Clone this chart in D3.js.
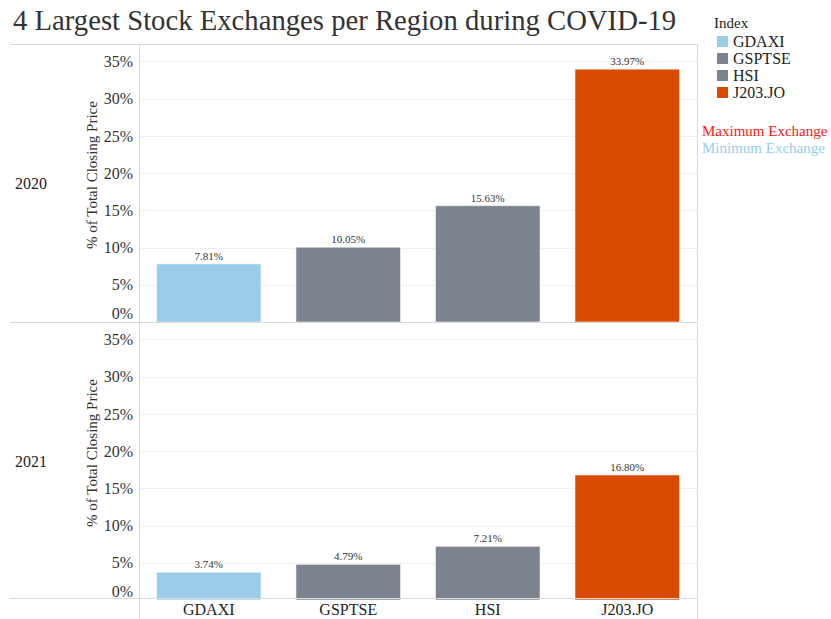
<!DOCTYPE html>
<html>
<head>
<meta charset="utf-8">
<script src="https://cdn.jsdelivr.net/npm/d3@7"></script>
<style>
  body { margin: 0; background: #fff; }
  svg text { font-family: "Liberation Serif", "Times New Roman", serif !important; }
</style>
</head>
<body>
<div id="chart"></div>
<script>
// chart values
const indices = ["GDAXI", "GSPTSE", "HSI", "J203.JO"];
const years = ["2020", "2021"];
const share2020 = [7.81, 10.05, 15.63, 33.97];
const share2021 = [3.74, 4.79, 7.21, 16.8];
const yTicks = [0, 5, 10, 15, 20, 25, 30, 35];
const indexColors = ["#99cdea", "#7b838f", "#7b838f", "#d84a00"];
const noteLabels = ["Maximum Exchange", "Minimum Exchange"];
const noteColors = ["#ff1a1a", "#99cdea"];

const width = 831, height = 619;
const paneLeft = 139, paneRight = 697;
const paneTops = [44, 322];
const paneHeight = 278;
const serif = "'Liberation Serif', 'Times New Roman', serif";

const svg = d3.select("#chart")
  .append("svg")
  .attr("width", width)
  .attr("height", height)
  .style("font-family", serif);

// title
svg.append("text")
  .attr("x", 13)
  .attr("y", 30)
  .style("font-size", "28.7px")
  .attr("fill", "#333")
  .text("4 Largest Stock Exchanges per Region during COVID-19");

const xScale = d3.scaleBand()
  .domain(indices)
  .range([paneLeft, paneRight])
  .paddingInner(0.25)
  .paddingOuter(0.125);

const color = d3.scaleOrdinal().domain(indices).range(indexColors);

const rows = [share2020, share2021];

rows.forEach((values, i) => {
  const top = paneTops[i];
  const bottom = top + paneHeight;
  const yScale = d3.scaleLinear().domain([0, 37.35]).range([bottom, top]);
  const g = svg.append("g");

  // gridlines
  g.selectAll("line.grid")
    .data(yTicks.filter((t) => t > 0))
    .enter()
    .append("line")
    .attr("class", "grid")
    .attr("x1", paneLeft)
    .attr("x2", paneRight)
    .attr("y1", (d) => Math.round(yScale(d)) + 0.5)
    .attr("y2", (d) => Math.round(yScale(d)) + 0.5)
    .attr("stroke", "#efefef");

  // y axis
  const axis = g.append("g")
    .attr("transform", `translate(${paneLeft},0)`)
    .call(d3.axisLeft(yScale).tickValues(yTicks).tickSize(0).tickPadding(6)
      .tickFormat((d) => d + "%"));
  axis.attr("font-family", null).attr("font-size", null);
  axis.select(".domain").remove();
  axis.selectAll("text")
    .style("font-family", serif)
    .style("font-size", "16px")
    .attr("fill", "#333")
    .attr("dy", (d) => (d === 0 ? "-0.25em" : "0.32em"));

  // y title
  g.append("text")
    .attr("transform", `translate(97,${top + paneHeight / 2 - 8}) rotate(-90)`)
    .attr("text-anchor", "middle")
    .style("font-size", "15px")
    .attr("fill", "#333")
    .text("% of Total Closing Price");

  // row label
  g.append("text")
    .attr("x", 15)
    .attr("y", top + paneHeight / 2 + 6)
    .style("font-size", "16px")
    .attr("fill", "#222")
    .text(years[i]);

  // bars
  g.selectAll("rect.bar")
    .data(values)
    .enter()
    .append("rect")
    .attr("class", "bar")
    .attr("x", (d, j) => xScale(indices[j]))
    .attr("width", xScale.bandwidth())
    .attr("y", (d) => yScale(d))
    .attr("height", (d) => yScale(0) - yScale(d))
    .attr("fill", (d, j) => color(indices[j]))
    .attr("stroke", "rgba(255,255,255,0.6)")
    .attr("stroke-width", 1);

  // bar labels
  g.selectAll("text.val")
    .data(values)
    .enter()
    .append("text")
    .attr("class", "val")
    .attr("x", (d, j) => xScale(indices[j]) + xScale.bandwidth() / 2)
    .attr("y", (d) => yScale(d) - 4)
    .attr("text-anchor", "middle")
    .style("font-size", "11px")
    .attr("fill", "#333")
    .text((d) => d.toFixed(2) + "%");
});

// pane borders
const border = svg.append("g").attr("stroke", "#d9d9d9").attr("stroke-width", 1);
[44, 322, 598].forEach((y) => {
  border.append("line")
    .attr("x1", 10).attr("x2", paneRight)
    .attr("y1", y + 0.5).attr("y2", y + 0.5);
});
border.append("line")
  .attr("x1", paneLeft + 0.5).attr("x2", paneLeft + 0.5)
  .attr("y1", 44).attr("y2", height);
border.append("line")
  .attr("x1", paneRight + 0.5).attr("x2", paneRight + 0.5)
  .attr("y1", 44).attr("y2", height);

// x axis labels
const xAxis = svg.append("g")
  .attr("transform", "translate(0,598)")
  .call(d3.axisBottom(xScale).tickSize(0).tickPadding(6));
xAxis.attr("font-family", null).attr("font-size", null);
xAxis.select(".domain").remove();
xAxis.selectAll("text")
  .style("font-family", serif)
  .style("font-size", "16px")
  .attr("fill", "#222");

// legend
const legend = svg.append("g").attr("transform", "translate(714,0)");
legend.append("text")
  .attr("x", 0)
  .attr("y", 28)
  .style("font-size", "15px")
  .attr("fill", "#222")
  .text("Index");
const items = legend.selectAll("g.item")
  .data(indices)
  .enter()
  .append("g")
  .attr("class", "item")
  .attr("transform", (d, i) => `translate(3,${36 + i * 17})`);
items.append("rect")
  .attr("width", 11)
  .attr("height", 11)
  .attr("fill", (d) => color(d));
items.append("text")
  .attr("x", 16)
  .attr("y", 10.5)
  .style("font-size", "16px")
  .attr("fill", "#222")
  .text((d) => d);

// max / min notes
svg.selectAll("text.note")
  .data(noteLabels)
  .enter()
  .append("text")
  .attr("class", "note")
  .attr("x", 702)
  .attr("y", (d, i) => 136 + i * 17)
  .style("font-size", "15px")
  .attr("fill", (d, i) => noteColors[i])
  .text((d) => d);
</script>
</body>
</html>
